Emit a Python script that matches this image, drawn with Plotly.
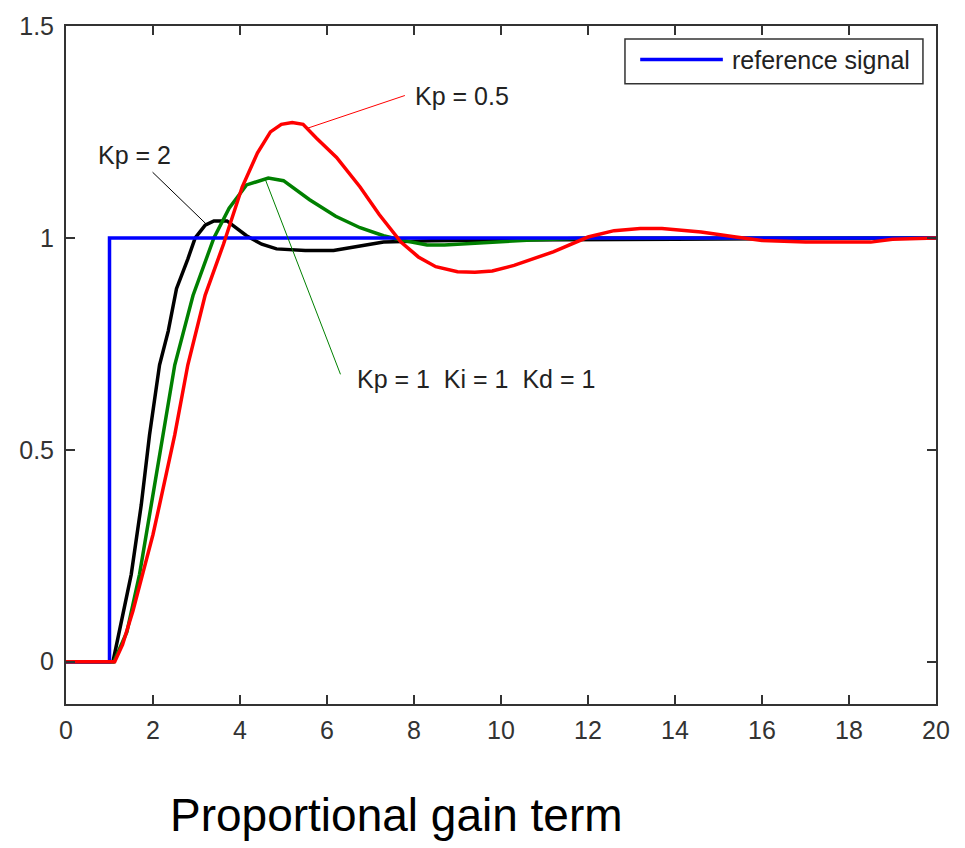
import plotly.graph_objects as go

# ---- data ----
ref_t = [0, 1, 1, 20]
ref_y = [0, 0, 1, 1]

kp2_t = [0, 1.0, 1.08, 1.5, 1.73, 1.92, 2.15, 2.35, 2.54, 2.8, 2.97, 3.2, 3.4, 3.7,
         4.15, 4.5, 4.84, 5.5, 6.15, 6.76, 7.3, 8.4, 10, 14, 20]
kp2_y = [0, 0, 0, 0.206, 0.37, 0.535, 0.70, 0.78, 0.88, 0.95, 1.0, 1.03, 1.04, 1.04,
         1.005, 0.985, 0.974, 0.97, 0.970, 0.981, 0.99, 0.993, 0.995, 0.997, 1.0]

kp1_t = [0, 1.0, 1.1, 1.4, 1.69, 1.96, 2.23, 2.5, 2.92, 3.4, 3.75, 4.15, 4.65, 5.0,
         5.6, 6.2, 6.76, 7.3, 7.7, 8.3, 8.7, 9.3, 10.0, 10.7, 12, 20]
kp1_y = [0, 0, 0, 0.07, 0.206, 0.37, 0.535, 0.70, 0.864, 1.0, 1.07, 1.125, 1.141, 1.135,
         1.09, 1.051, 1.024, 1.005, 0.995, 0.983, 0.983, 0.987, 0.991, 0.995, 1.0, 1.0]

kp05_t = [0, 1.0, 1.12, 1.3, 1.54, 1.77, 2.0, 2.15, 2.5, 2.8, 3.2, 3.62, 3.85, 4.05,
          4.4, 4.7, 4.95, 5.2, 5.45, 5.76, 6.22, 6.76, 7.2, 7.7, 8.1, 8.5, 9.0, 9.4,
          9.8, 10.3, 11.2, 12.0, 12.6, 13.2, 13.7, 14.6, 15.4, 16.0, 17.0, 18.5, 19.0, 20]
kp05_y = [0, 0, 0, 0.04, 0.12, 0.21, 0.30, 0.37, 0.535, 0.70, 0.865, 0.985, 1.06, 1.12,
          1.20, 1.25, 1.268, 1.272, 1.268, 1.235, 1.19, 1.12, 1.055, 0.99, 0.955, 0.932,
          0.92, 0.919, 0.922, 0.935, 0.967, 1.002, 1.017, 1.022, 1.022, 1.014, 1.002,
          0.994, 0.99, 0.99, 0.997, 1.0]

x_ticks = [0, 2, 4, 6, 8, 10, 12, 14, 16, 18, 20]
y_ticks = [0, 0.5, 1, 1.5]
y_tick_text = ["0", "0.5", "1", "1.5"]

labels = ["Kp = 2", "Kp = 0.5", "Kp = 1  Ki = 1  Kd = 1"]
label_pos = [(0.70, 1.196), (7.98, 1.336), (6.64, 0.666)]
pointer_lines = [((1.99, 1.155), (3.23, 1.032), "#000000"),
                 ((5.53, 1.258), (7.79, 1.336), "#FF0000"),
                 ((4.57, 1.141), (6.31, 0.678), "#008000")]

legend_label = "reference signal"
title_text = "Proportional gain term"

FONT = "Liberation Sans, Arial, Helvetica, sans-serif"

fig = go.Figure()
fig.add_trace(go.Scatter(x=kp2_t, y=kp2_y, mode="lines", line=dict(color="#000000", width=3.5),
                         name="Kp = 2", showlegend=False))
fig.add_trace(go.Scatter(x=kp1_t, y=kp1_y, mode="lines", line=dict(color="#008000", width=3.5),
                         name="Kp = 1", showlegend=False))
fig.add_trace(go.Scatter(x=ref_t, y=ref_y, mode="lines", line=dict(color="#0000FF", width=3.5),
                         name=legend_label, showlegend=False))
fig.add_trace(go.Scatter(x=kp05_t, y=kp05_y, mode="lines", line=dict(color="#FF0000", width=3.5),
                         name="Kp = 0.5", showlegend=False))

shapes = []
for (p0, p1, col) in pointer_lines:
    shapes.append(dict(type="line", xref="x", yref="y", x0=p0[0], y0=p0[1], x1=p1[0], y1=p1[1],
                       line=dict(color=col, width=1)))
# manual legend (MATLAB style long line sample)
shapes.append(dict(type="rect", xref="paper", yref="paper", x0=0.6425, x1=0.985, y0=0.915, y1=0.981,
                   line=dict(color="#333333", width=1.5), fillcolor="white", layer="above"))
shapes.append(dict(type="line", xref="paper", yref="paper", x0=0.660, x1=0.755, y0=0.9505, y1=0.9505,
                   line=dict(color="#0000FF", width=3.5), layer="above"))

annotations = []
for txt, (tx, ty) in zip(labels, label_pos):
    annotations.append(dict(x=tx, y=ty, xref="x", yref="y", text=txt, showarrow=False,
                            xanchor="left", yanchor="middle",
                            font=dict(family=FONT, size=25, color="#222222")))
annotations.append(dict(x=0.763, y=0.9505, xref="paper", yref="paper", text=legend_label,
                        showarrow=False, xanchor="left", yanchor="middle",
                        font=dict(family=FONT, size=25, color="#222222")))
annotations.append(dict(x=0.117, y=-0.164, xref="paper", yref="paper", text=title_text,
                        showarrow=False, xanchor="left", yanchor="middle",
                        font=dict(family=FONT, size=46, color="#000000")))

axis_common = dict(showline=True, linecolor="#333333", linewidth=2, mirror="ticks",
                   ticks="inside", ticklen=9, tickwidth=1.5, tickcolor="#333333",
                   showgrid=False, zeroline=False,
                   tickfont=dict(family=FONT, size=25, color="#333333"))

fig.update_layout(
    width=965, height=848,
    margin=dict(l=66, r=29, t=20, b=144),
    paper_bgcolor="white", plot_bgcolor="white",
    showlegend=False,
    shapes=shapes, annotations=annotations,
    xaxis=dict(range=[0, 20], tickvals=x_ticks, ticklabelstandoff=3, **axis_common),
    yaxis=dict(range=[-0.1, 1.5], tickvals=y_ticks, ticktext=y_tick_text,
               ticklabelstandoff=5, **axis_common),
)

fig.write_html("out.html")
